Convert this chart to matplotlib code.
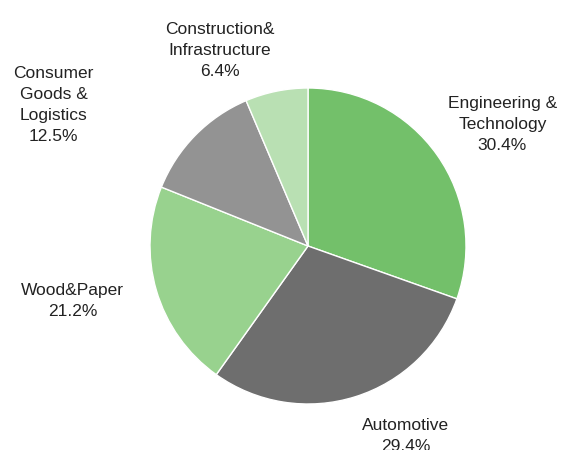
import matplotlib
matplotlib.use("Agg")
import matplotlib.pyplot as plt
from matplotlib import font_manager

categories = ["Engineering &\nTechnology", "Automotive", "Wood&Paper",
              "Consumer\nGoods &\nLogistics", "Construction&\nInfrastructure"]
values = [30.4, 29.4, 21.2, 12.5, 6.4]
colors = ["#73C06A", "#6E6E6E", "#98D28E", "#939393", "#B9E0B3"]
label_pos = [(1.23, 0.77), (0.62, -1.20), (-1.49, -0.35), (-1.61, 0.89), (-0.56, 1.24)]

names = {f.name for f in font_manager.fontManager.ttflist}
fam = "Liberation Sans Narrow" if "Liberation Sans Narrow" in names else "Liberation Sans"

fig = plt.figure(figsize=(5.62, 4.5), dpi=100)
ax = fig.add_axes([0, 0, 1, 1])
R = 158.0
cx, cy = 308.0, 246.0
ax.pie(values, colors=colors, startangle=90, counterclock=False,
       wedgeprops=dict(edgecolor="white", linewidth=1.0), radius=1.0)
ax.set_xlim(-cx / R, (562 - cx) / R)
ax.set_ylim(-(450 - cy) / R, cy / R)
ax.set_aspect("equal")
ax.axis("off")

for name, v, (x, y) in zip(categories, values, label_pos):
    ax.text(x, y, f"{name}\n{v:.1f}%", ha="center", va="center",
            fontsize=12.5, family=fam, color="#222222", linespacing=1.5)

fig.savefig("out.png", dpi=100)
